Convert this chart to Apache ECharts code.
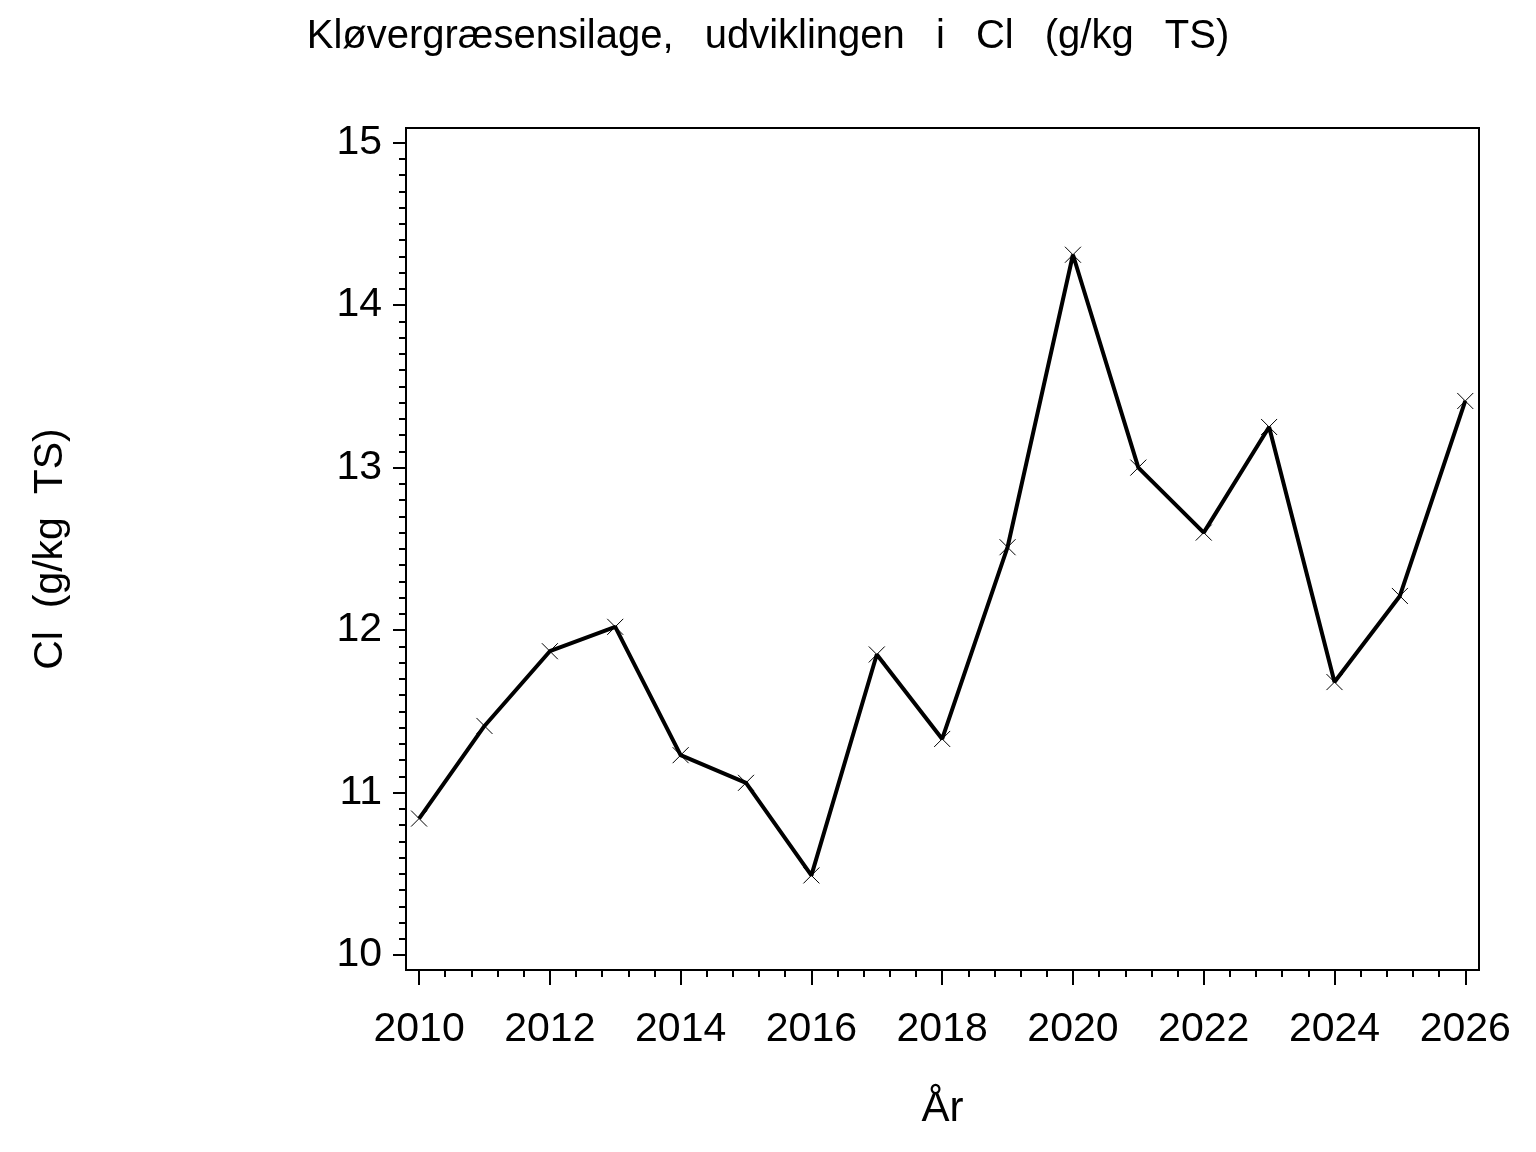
<!DOCTYPE html>
<html>
<head>
<meta charset="utf-8">
<script src="https://cdn.jsdelivr.net/npm/echarts@6/dist/echarts.min.js"></script>
<style>
  html, body { margin: 0; padding: 0; background: #fff; }
  #chart { width: 1536px; height: 1152px; }
</style>
</head>
<body>
<div id="chart"></div>
<script>
// data
const years = [2010, 2011, 2012, 2013, 2014, 2015, 2016, 2017, 2018, 2019, 2020, 2021, 2022, 2023, 2024, 2025, 2026]
const cl = [10.84, 11.41, 11.87, 12.02, 11.23, 11.06, 10.49, 11.85, 11.33, 12.51, 14.31, 13.00, 12.60, 13.25, 11.68, 12.21, 13.41]
const xTicks = [2010, 2012, 2014, 2016, 2018, 2020, 2022, 2024, 2026]
const yTicks = [10, 11, 12, 13, 14, 15]

// minor ticks: every 0.4 year on x, every 0.1 on y
const xMinor = []
for (let i = 0; i <= 40; i++) {
    const v = +(2010 + i * 0.4).toFixed(1)
    if (!xTicks.includes(v)) xMinor.push(v)
}
const yMinor = []
for (let i = 1; i < 50; i++) {
    if (i % 10 !== 0) yMinor.push(+(10 + i * 0.1).toFixed(1))
}

const font = '"Liberation Sans", Arial, sans-serif'
const xMin = 2009.8, xMax = 2026.21
const yMin = 9.908, yMax = 15.09

const chart = echarts.init(document.getElementById('chart'), null, { renderer: 'canvas' })

const baseX = {
    type: 'value', min: xMin, max: xMax, position: 'bottom',
    splitLine: { show: false }
}
const baseY = {
    type: 'value', min: yMin, max: yMax, position: 'left',
    splitLine: { show: false }
}

const option = {
    backgroundColor: '#fff',
    animation: false,
    title: {
        text: 'Kløvergræsensilage,\u2002 udviklingen\u2002 i\u2002 Cl\u2002 (g/kg\u2002 TS)',
        left: 'center',
        top: 12,
        textStyle: { fontFamily: font, fontSize: 40, fontWeight: 'normal', color: '#000' }
    },
    grid: {
        left: 406, right: 57, top: 128, bottom: 182,
        show: true, borderColor: '#000', borderWidth: 2, backgroundColor: 'transparent'
    },
    xAxis: [
        Object.assign({}, baseX, {
            name: 'År', nameLocation: 'middle', nameGap: 118,
            nameTextStyle: { fontFamily: font, fontSize: 42, color: '#000' },
            axisLine: { show: true, lineStyle: { color: '#000', width: 2 } },
            axisTick: { show: true, length: 15, customValues: xTicks, lineStyle: { color: '#000', width: 2 } },
            axisLabel: {
                customValues: xTicks, margin: 39,
                fontFamily: font, fontSize: 41, color: '#000',
                formatter: v => String(v)
            }
        }),
        Object.assign({}, baseX, {
            axisLine: { show: false },
            axisTick: { show: true, length: 7, customValues: xMinor, lineStyle: { color: '#000', width: 2 } },
            axisLabel: { show: false }
        })
    ],
    yAxis: [
        Object.assign({}, baseY, {
            name: 'Cl  (g/kg  TS)', nameLocation: 'middle', nameGap: 335,
            nameTextStyle: { fontFamily: font, fontSize: 41, color: '#000' },
            axisLine: { show: true, lineStyle: { color: '#000', width: 2 } },
            axisTick: { show: true, length: 13, customValues: yTicks, lineStyle: { color: '#000', width: 2 } },
            axisLabel: {
                customValues: yTicks, margin: 24,
                fontFamily: font, fontSize: 41, color: '#000',
                formatter: v => String(v)
            }
        }),
        Object.assign({}, baseY, {
            axisLine: { show: false },
            axisTick: { show: true, length: 7, customValues: yMinor, lineStyle: { color: '#000', width: 2 } },
            axisLabel: { show: false }
        })
    ],
    series: [{
        type: 'line',
        xAxisIndex: 0,
        yAxisIndex: 0,
        data: years.map((y, i) => [y, cl[i]]),
        lineStyle: { color: '#000', width: 4 },
        symbol: 'path://M0,0L10,10M10,0L0,10',
        symbolSize: 16,
        itemStyle: { color: 'transparent', borderColor: '#000', borderWidth: 1 },
        z: 3
    }]
}

chart.setOption(option)
</script>
</body>
</html>
